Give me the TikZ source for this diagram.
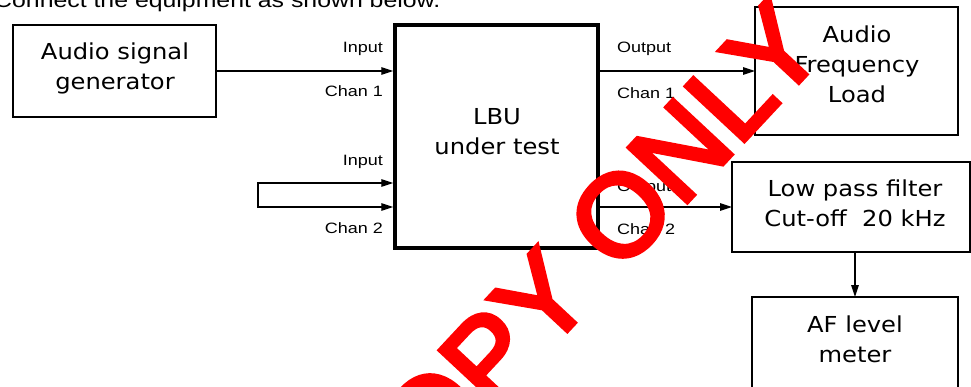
\documentclass[tikz,border=0pt]{standalone}
\usepackage{fontspec}
\usetikzlibrary{arrows.meta}
\newfontfamily\boxfont[FakeStretch=1.1]{DejaVu Sans}
\newfontfamily\labfont[FakeStretch=1.2]{Liberation Sans}
\newfontfamily\wmfont[FakeBold=4]{Liberation Sans}
\definecolor{wmred}{RGB}{255,0,0}
\begin{document}
\begin{tikzpicture}[x=1pt,y=-1pt,
  box/.style={draw, line width=1.5pt, inner sep=0pt, outer sep=0pt},
  dut/.style={draw, line width=3.5pt, inner sep=0pt, outer sep=1.75pt},
  boxtxt/.style={font=\boxfont\fontsize{22}{30}\selectfont, align=center, inner sep=0pt},
  lab/.style={font=\labfont\fontsize{15}{18}\selectfont, inner sep=0pt},
  wire/.style={line width=1.3pt},
  tip/.style={-{Triangle[length=12pt,width=7.5pt]}},
  arr/.style={wire, tip},
]
\useasboundingbox (0,0) rectangle (971,387);
\clip (0,0) rectangle (971,387);

% title (partly cut off at top)
\node[font=\labfont\fontsize{20.7}{25}\selectfont, anchor=base west, inner sep=0pt] (title) at (-6,8) {Connect the equipment as shown below.};

% boxes
\node[box, minimum width=203pt, minimum height=92pt] (gen) at (114.5,71) {};
\node[boxtxt] (gent) at (115,68.3) {Audio signal\\generator};

\node[dut, minimum width=203pt, minimum height=223pt] (lbu) at (496.5,136.5) {};
\node[boxtxt] (lbut) at (497,131.7) {LBU\\under test};

\node[box, minimum width=203pt, minimum height=128pt] (load) at (856.5,71) {};
\node[boxtxt] (loadt) at (857,64.7) {Audio\\Frequency\\Load};

\node[box, minimum width=238pt, minimum height=90pt] (filt) at (851,207) {};
\node[boxtxt] (filtt) at (855,203.7) {Low pass filter\\Cut-off\ \ 20 kHz};

\node[box, minimum width=206pt, minimum height=103pt] (af) at (855,348.5) {};
\node[boxtxt] (aft) at (855,339.7) {AF level\\meter};

% channel 1 input
\draw[arr] (gen.east) -- (gen.east -| lbu.west);

% channel 2 input loop
\coordinate (lp1) at (258,183);
\coordinate (lp2) at (258,207);
\draw[wire, {Triangle[length=12pt,width=7.5pt]}-{Triangle[length=12pt,width=7.5pt]}]
  (lp1 -| lbu.west) -- (lp1) -- (lp2) -- (lp2 -| lbu.west);

% outputs
\draw[arr] (lbu.east |- load.west) -- (load.west);
\draw[arr] (lbu.east |- filt.west) -- (filt.west);
\draw[arr] (af.north |- filt.south) -- (af.north);

% labels
\node[lab, anchor=base east] (in1) at (383,53) {Input};
\node[lab, anchor=base east] (ch1i) at (383,97) {Chan 1};
\node[lab, anchor=base east] (in2) at (383,166) {Input};
\node[lab, anchor=base east] (ch2i) at (383,234) {Chan 2};
\node[lab, anchor=base west] (out1) at (617,53) {Output};
\node[lab, anchor=base west] (ch1o) at (617,99) {Chan 1};
\node[lab, anchor=base west] (out2) at (617,192) {Output};
\node[lab, anchor=base west] (ch2o) at (617,235) {Chan 2};

% watermark
\node[font=\wmfont\fontsize{116}{116}\selectfont, text=wmred, anchor=base west, rotate=47, inner sep=0pt] (wm) at (373,539) {COPY ONLY};
\end{tikzpicture}
\end{document}
